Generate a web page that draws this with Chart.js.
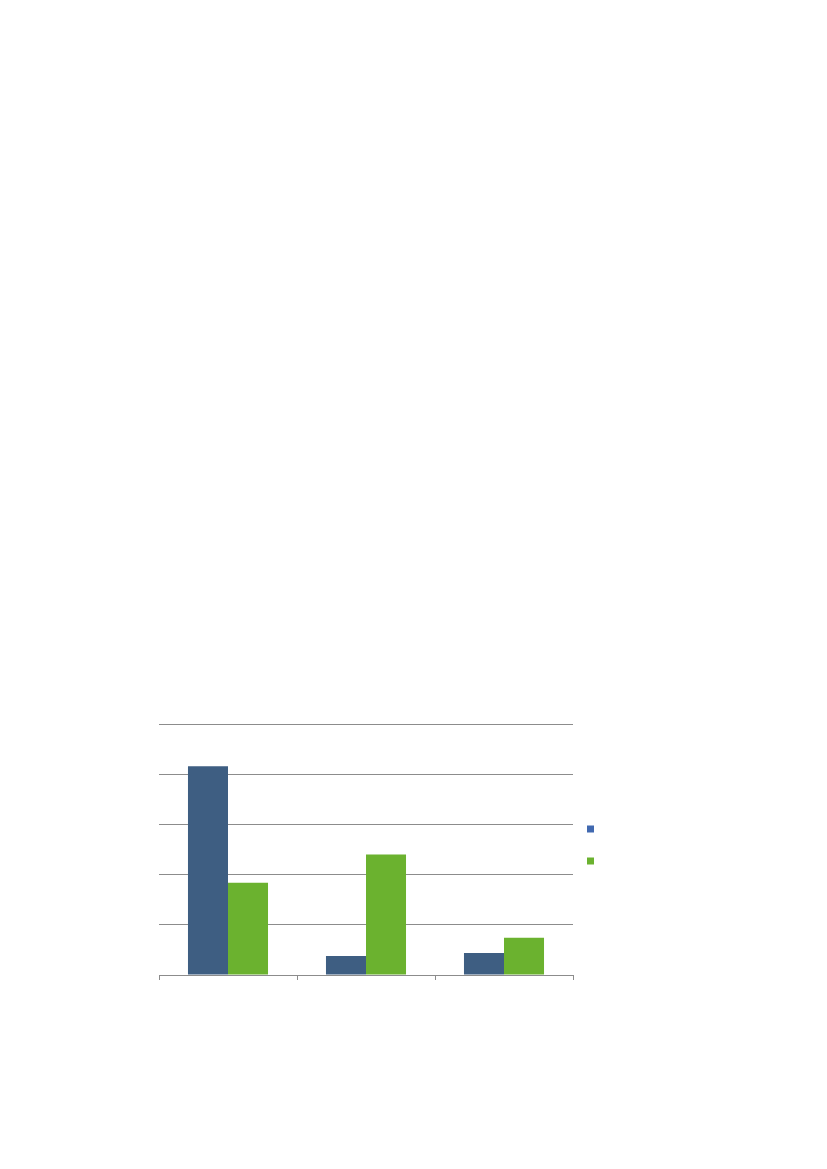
<!DOCTYPE html>
<html>
<head>
<meta charset="utf-8">
<script src="https://cdn.jsdelivr.net/npm/chart.js@4/dist/chart.umd.min.js"></script>
<style>
  html, body { margin: 0; padding: 0; background: #ffffff; }
  canvas { display: block; }
</style>
</head>
<body>
<canvas id="grafico" width="827" height="1169"></canvas>
<script>
// no text is shown in the original, categories and series names are blank
const categorias = ['', '', ''];
const serieAzul = [4.16, 0.38, 0.44];
const serieVerde = [1.84, 2.4, 0.74];
const nomesSeries = ['', ''];

function carregarGrafico(){
    const dados = {
        labels: categorias,
        datasets: [{
            label: nomesSeries[0],
            data: serieAzul,
            backgroundColor: '#3e5e82',
            borderWidth: 0
        },{
            label: nomesSeries[1],
            data: serieVerde,
            backgroundColor: '#6bb22f',
            borderWidth: 0
        }]
    };

    // legend sits a little above the middle of the plot in the original
    const ajusteLegenda = {
        id: 'ajusteLegenda',
        afterLayout(chart){
            chart.legend.top -= 7;
            chart.legend.bottom -= 7;
        }
    };

    const config = {
        type: 'bar',
        data: dados,
        options: {
            responsive: false,
            animation: false,
            devicePixelRatio: 1,
            categoryPercentage: 0.58,
            barPercentage: 1,
            layout: {
                padding: { top: 724, left: 159, bottom: 189, right: 214 }
            },
            scales: {
                x: {
                    grid: { drawOnChartArea: false, color: '#8c8c8c', tickLength: 5 },
                    border: { color: '#8c8c8c', width: 1 },
                    ticks: { display: false }
                },
                y: {
                    min: 0,
                    max: 5,
                    ticks: { display: false, stepSize: 1 },
                    grid: { color: '#8c8c8c', drawTicks: false },
                    border: { display: false }
                }
            },
            plugins: {
                tooltip: { enabled: false },
                legend: {
                    position: 'right',
                    labels: {
                        boxWidth: 7,
                        boxHeight: 7,
                        padding: 14,
                        font: { size: 18 },
                        generateLabels(chart){
                            const cores = ['#4169b0', '#6bb22f'];
                            return chart.data.datasets.map((ds, i) => ({
                                text: ds.label,
                                fillStyle: cores[i],
                                strokeStyle: cores[i],
                                lineWidth: 0,
                                datasetIndex: i
                            }));
                        }
                    }
                }
            }
        },
        plugins: [ajusteLegenda]
    };
    new Chart(document.getElementById('grafico'), config);
}
carregarGrafico();
</script>
</body>
</html>
